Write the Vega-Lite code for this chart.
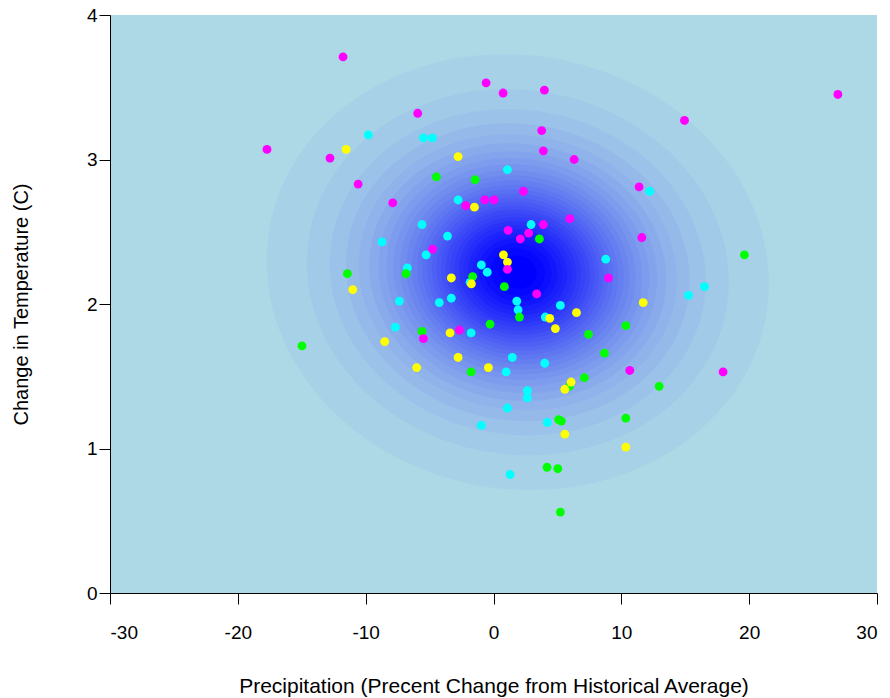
{
  "$schema": "https://vega.github.io/schema/vega-lite/v6.json",
  "width": 767,
  "height": 578,
  "autosize": {"type": "none"},
  "padding": {"left": 110, "top": 15, "right": 13, "bottom": 105},
  "background": "white",
  "config": {
    "view": {"fill": "#ADD8E6", "stroke": null},
    "axis": {
      "domainColor": "black", "tickColor": "black", "labelColor": "black", "titleColor": "black",
      "labelFont": "Liberation Sans", "titleFont": "Liberation Sans",
      "labelFontSize": 19, "titleFontWeight": "normal",
      "tickSize": 11, "grid": false, "domainWidth": 1, "tickWidth": 1,
      "labelExpr": "'' + datum.value"
    }
  },
  "datasets": {
    "density": [
      {"precip": 1.9, "temp": 2.22, "level": 0.0333},
      {"precip": 1.9, "temp": 2.22, "level": 0.0667},
      {"precip": 1.9, "temp": 2.22, "level": 0.1},
      {"precip": 1.9, "temp": 2.22, "level": 0.1333},
      {"precip": 1.9, "temp": 2.22, "level": 0.1667},
      {"precip": 1.9, "temp": 2.22, "level": 0.2},
      {"precip": 1.9, "temp": 2.22, "level": 0.2333},
      {"precip": 1.9, "temp": 2.22, "level": 0.2667},
      {"precip": 1.9, "temp": 2.22, "level": 0.3},
      {"precip": 1.9, "temp": 2.22, "level": 0.3333},
      {"precip": 1.9, "temp": 2.22, "level": 0.3667},
      {"precip": 1.9, "temp": 2.22, "level": 0.4},
      {"precip": 1.9, "temp": 2.22, "level": 0.4333},
      {"precip": 1.9, "temp": 2.22, "level": 0.4667},
      {"precip": 1.9, "temp": 2.22, "level": 0.5},
      {"precip": 1.9, "temp": 2.22, "level": 0.5333},
      {"precip": 1.9, "temp": 2.22, "level": 0.5667},
      {"precip": 1.9, "temp": 2.22, "level": 0.6},
      {"precip": 1.9, "temp": 2.22, "level": 0.6333},
      {"precip": 1.9, "temp": 2.22, "level": 0.6667},
      {"precip": 1.9, "temp": 2.22, "level": 0.7},
      {"precip": 1.9, "temp": 2.22, "level": 0.7333},
      {"precip": 1.9, "temp": 2.22, "level": 0.7667},
      {"precip": 1.9, "temp": 2.22, "level": 0.8},
      {"precip": 1.9, "temp": 2.22, "level": 0.8333},
      {"precip": 1.9, "temp": 2.22, "level": 0.8667},
      {"precip": 1.9, "temp": 2.22, "level": 0.9},
      {"precip": 1.9, "temp": 2.22, "level": 0.9333},
      {"precip": 1.9, "temp": 2.22, "level": 0.9667}
    ],
    "points": [
      {"precip": -9.79, "temp": 3.17, "group": "cyan"},
      {"precip": -5.48, "temp": 3.15, "group": "cyan"},
      {"precip": -4.78, "temp": 3.15, "group": "cyan"},
      {"precip": -2.77, "temp": 2.72, "group": "cyan"},
      {"precip": 1.09, "temp": 2.93, "group": "cyan"},
      {"precip": 12.22, "temp": 2.78, "group": "cyan"},
      {"precip": -5.59, "temp": 2.55, "group": "cyan"},
      {"precip": -3.6, "temp": 2.47, "group": "cyan"},
      {"precip": -8.72, "temp": 2.43, "group": "cyan"},
      {"precip": -5.27, "temp": 2.34, "group": "cyan"},
      {"precip": -0.95, "temp": 2.27, "group": "cyan"},
      {"precip": -6.74, "temp": 2.25, "group": "cyan"},
      {"precip": -1.83, "temp": 2.15, "group": "cyan"},
      {"precip": -7.36, "temp": 2.02, "group": "cyan"},
      {"precip": -4.24, "temp": 2.01, "group": "cyan"},
      {"precip": -3.3, "temp": 2.04, "group": "cyan"},
      {"precip": -7.68, "temp": 1.84, "group": "cyan"},
      {"precip": -1.75, "temp": 1.8, "group": "cyan"},
      {"precip": -0.49, "temp": 2.22, "group": "cyan"},
      {"precip": 8.78, "temp": 2.31, "group": "cyan"},
      {"precip": 2.94, "temp": 2.55, "group": "cyan"},
      {"precip": 1.82, "temp": 2.02, "group": "cyan"},
      {"precip": 1.92, "temp": 1.96, "group": "cyan"},
      {"precip": 5.23, "temp": 1.99, "group": "cyan"},
      {"precip": 4.05, "temp": 1.91, "group": "cyan"},
      {"precip": 1.47, "temp": 1.63, "group": "cyan"},
      {"precip": 4.01, "temp": 1.59, "group": "cyan"},
      {"precip": 0.99, "temp": 1.53, "group": "cyan"},
      {"precip": 2.65, "temp": 1.4, "group": "cyan"},
      {"precip": 2.65, "temp": 1.35, "group": "cyan"},
      {"precip": 1.09, "temp": 1.28, "group": "cyan"},
      {"precip": 4.21, "temp": 1.18, "group": "cyan"},
      {"precip": -0.95, "temp": 1.16, "group": "cyan"},
      {"precip": 1.3, "temp": 0.82, "group": "cyan"},
      {"precip": 16.5, "temp": 2.12, "group": "cyan"},
      {"precip": 15.25, "temp": 2.06, "group": "cyan"},
      {"precip": -4.47, "temp": 2.88, "group": "green"},
      {"precip": -1.44, "temp": 2.86, "group": "green"},
      {"precip": -6.84, "temp": 2.21, "group": "green"},
      {"precip": -11.43, "temp": 2.21, "group": "green"},
      {"precip": -1.63, "temp": 2.19, "group": "green"},
      {"precip": -5.59, "temp": 1.81, "group": "green"},
      {"precip": -14.98, "temp": 1.71, "group": "green"},
      {"precip": 3.59, "temp": 2.45, "group": "green"},
      {"precip": 0.85, "temp": 2.12, "group": "green"},
      {"precip": 2.03, "temp": 1.91, "group": "green"},
      {"precip": -0.27, "temp": 1.86, "group": "green"},
      {"precip": 10.35, "temp": 1.85, "group": "green"},
      {"precip": 7.43, "temp": 1.79, "group": "green"},
      {"precip": 8.68, "temp": 1.66, "group": "green"},
      {"precip": 7.11, "temp": 1.49, "group": "green"},
      {"precip": 5.94, "temp": 1.43, "group": "green"},
      {"precip": 12.96, "temp": 1.43, "group": "green"},
      {"precip": 10.35, "temp": 1.21, "group": "green"},
      {"precip": 5.1, "temp": 1.2, "group": "green"},
      {"precip": 5.31, "temp": 1.19, "group": "green"},
      {"precip": 4.19, "temp": 0.87, "group": "green"},
      {"precip": 5.03, "temp": 0.86, "group": "green"},
      {"precip": 5.23, "temp": 0.56, "group": "green"},
      {"precip": 19.63, "temp": 2.34, "group": "green"},
      {"precip": -1.75, "temp": 1.53, "group": "green"},
      {"precip": -11.53, "temp": 3.07, "group": "yellow"},
      {"precip": -2.77, "temp": 3.02, "group": "yellow"},
      {"precip": -1.49, "temp": 2.67, "group": "yellow"},
      {"precip": -3.3, "temp": 2.18, "group": "yellow"},
      {"precip": -1.73, "temp": 2.14, "group": "yellow"},
      {"precip": -11.01, "temp": 2.1, "group": "yellow"},
      {"precip": -3.4, "temp": 1.8, "group": "yellow"},
      {"precip": -8.51, "temp": 1.74, "group": "yellow"},
      {"precip": -2.77, "temp": 1.63, "group": "yellow"},
      {"precip": -6.01, "temp": 1.56, "group": "yellow"},
      {"precip": 0.78, "temp": 2.34, "group": "yellow"},
      {"precip": 1.09, "temp": 2.29, "group": "yellow"},
      {"precip": 11.71, "temp": 2.01, "group": "yellow"},
      {"precip": 6.49, "temp": 1.94, "group": "yellow"},
      {"precip": 4.4, "temp": 1.9, "group": "yellow"},
      {"precip": 4.84, "temp": 1.83, "group": "yellow"},
      {"precip": -0.4, "temp": 1.56, "group": "yellow"},
      {"precip": 6.07, "temp": 1.46, "group": "yellow"},
      {"precip": 5.58, "temp": 1.41, "group": "yellow"},
      {"precip": 5.58, "temp": 1.1, "group": "yellow"},
      {"precip": 10.35, "temp": 1.01, "group": "yellow"},
      {"precip": -17.72, "temp": 3.07, "group": "magenta"},
      {"precip": -11.77, "temp": 3.71, "group": "magenta"},
      {"precip": -5.93, "temp": 3.32, "group": "magenta"},
      {"precip": -12.79, "temp": 3.01, "group": "magenta"},
      {"precip": -10.59, "temp": 2.83, "group": "magenta"},
      {"precip": -7.88, "temp": 2.7, "group": "magenta"},
      {"precip": -2.17, "temp": 2.68, "group": "magenta"},
      {"precip": -0.58, "temp": 3.53, "group": "magenta"},
      {"precip": 0.75, "temp": 3.46, "group": "magenta"},
      {"precip": 3.98, "temp": 3.48, "group": "magenta"},
      {"precip": 3.77, "temp": 3.2, "group": "magenta"},
      {"precip": 3.9, "temp": 3.06, "group": "magenta"},
      {"precip": 6.31, "temp": 3.0, "group": "magenta"},
      {"precip": 2.34, "temp": 2.78, "group": "magenta"},
      {"precip": 11.39, "temp": 2.81, "group": "magenta"},
      {"precip": -0.68, "temp": 2.72, "group": "magenta"},
      {"precip": 0.05, "temp": 2.72, "group": "magenta"},
      {"precip": 14.94, "temp": 3.27, "group": "magenta"},
      {"precip": 26.94, "temp": 3.45, "group": "magenta"},
      {"precip": -4.76, "temp": 2.38, "group": "magenta"},
      {"precip": -5.48, "temp": 1.76, "group": "magenta"},
      {"precip": -2.67, "temp": 1.82, "group": "magenta"},
      {"precip": 5.97, "temp": 2.59, "group": "magenta"},
      {"precip": 3.9, "temp": 2.55, "group": "magenta"},
      {"precip": 1.14, "temp": 2.51, "group": "magenta"},
      {"precip": 2.75, "temp": 2.49, "group": "magenta"},
      {"precip": 2.1, "temp": 2.45, "group": "magenta"},
      {"precip": 11.6, "temp": 2.46, "group": "magenta"},
      {"precip": 1.09, "temp": 2.24, "group": "magenta"},
      {"precip": 8.99, "temp": 2.18, "group": "magenta"},
      {"precip": 3.38, "temp": 2.07, "group": "magenta"},
      {"precip": 10.66, "temp": 1.54, "group": "magenta"},
      {"precip": 17.96, "temp": 1.53, "group": "magenta"}
    ]
  },
  "encoding": {
    "x": {
      "field": "precip", "type": "quantitative",
      "scale": {"domain": [-30, 30], "nice": false, "zero": false},
      "axis": {"values": [-30, -20, -10, 0, 10, 20, 30], "title": "Precipitation (Precent Change from Historical Average)", "titleFontSize": 21, "labelPadding": 19, "titlePadding": 33}
    },
    "y": {
      "field": "temp", "type": "quantitative",
      "scale": {"domain": [0, 4], "nice": false, "zero": false},
      "axis": {"values": [0, 1, 2, 3, 4], "title": "Change in Temperature (C)", "titleFontSize": 20, "labelAngle": 0, "labelPadding": 2, "titlePadding": 55}
    }
  },
  "layer": [
    {
      "data": {"name": "density"},
      "mark": {
        "type": "point", "filled": true, "opacity": 1, "strokeWidth": 0, "angle": 10, "clip": true,
        "shape": "M1,0C1,0.475 0.552,0.86 0,0.86C-0.552,0.86 -1,0.475 -1,0C-1,-0.475 -0.552,-0.86 0,-0.86C0.552,-0.86 1,-0.475 1,0Z"
      },
      "encoding": {
        "size": {"field": "level", "type": "quantitative", "legend": null,
          "scale": {"type": "pow", "exponent": -0.3, "domain": [0.0333, 1], "range": [254016, 0]}},
        "color": {"field": "level", "type": "quantitative", "legend": null,
          "scale": {"domain": [0, 0.9667], "range": ["#ADD8E6", "#0000FF"], "interpolate": "rgb"}}
      }
    },
    {
      "data": {"name": "points"},
      "mark": {"type": "point", "filled": true, "opacity": 1, "shape": "circle", "size": 78, "strokeWidth": 0},
      "encoding": {
        "color": {"field": "group", "type": "nominal", "legend": null,
          "scale": {"domain": ["cyan", "green", "yellow", "magenta"], "range": ["#00FFFF", "#00FF00", "#FFFF00", "#FF00FF"]}}
      }
    }
  ],
  "resolve": {"scale": {"color": "independent", "size": "independent"}}
}
